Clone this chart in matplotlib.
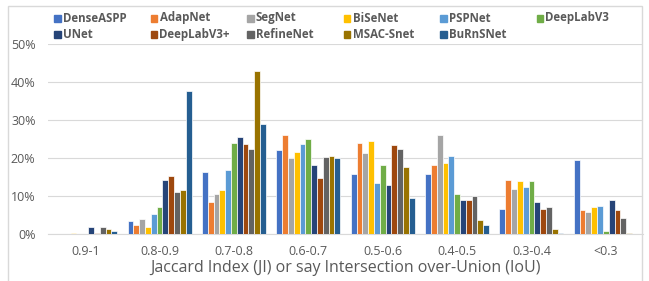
import numpy as np
import matplotlib
matplotlib.use("Agg")
import matplotlib.pyplot as plt
from matplotlib.patches import Rectangle

plt.rcParams['font.family'] = ['Open Sans', 'DejaVu Sans']

# 区间
categories = ['0.9-1', '0.8-0.9', '0.7-0.8', '0.6-0.7', '0.5-0.6', '0.4-0.5', '0.3-0.4', '<0.3']

models = ['DenseASPP', 'AdapNet', 'SegNet', 'BiSeNet', 'PSPNet', 'DeepLabV3',
          'UNet', 'DeepLabV3+', 'RefineNet', 'MSAC-Snet', 'BuRnSNet']

colors = ['#4472C4', '#ED7D31', '#A5A5A5', '#FFC000', '#5B9BD5', '#70AD47',
          '#264478', '#9E480E', '#636363', '#997300', '#255E91']

# 每个模型在各区间的占比 (%)
dense_aspp = [0.0, 3.3, 16.2, 22.0, 15.7, 15.8, 6.7, 19.6]
adapnet    = [0.0, 2.4, 8.5, 26.0, 24.0, 18.2, 14.2, 6.2]
segnet     = [0.0, 3.9, 10.4, 20.1, 21.4, 26.0, 11.9, 5.7]
bisenet    = [0.35, 1.8, 11.5, 21.5, 24.6, 18.6, 13.9, 7.1]
pspnet     = [0.0, 5.3, 16.8, 23.6, 13.4, 20.6, 12.5, 7.5]
deeplabv3  = [0.0, 7.1, 24.0, 25.0, 18.2, 10.4, 13.9, 0.8]
unet       = [1.9, 14.3, 25.5, 18.2, 12.9, 8.9, 8.5, 9.0]
deeplabv3p = [0.3, 15.3, 23.6, 14.8, 23.5, 8.9, 6.7, 6.2]
refinenet  = [1.9, 11.0, 22.5, 20.2, 22.5, 10.0, 7.1, 4.3]
msac_snet  = [1.3, 11.5, 42.9, 20.6, 17.7, 3.8, 1.3, 0.35]
burnsnet   = [0.8, 37.5, 28.9, 20.1, 9.6, 2.3, 0.35, 0.0]

series = [dense_aspp, adapnet, segnet, bisenet, pspnet, deeplabv3,
          unet, deeplabv3p, refinenet, msac_snet, burnsnet]

fig = plt.figure(figsize=(6.49, 2.81), dpi=100)
ax = fig.add_axes([48 / 649, 1 - 234 / 281, (643 - 48) / 649, (234 - 44) / 281])

x = np.arange(len(categories))
n = len(series)
group_w = 0.86
bw = group_w / n
for i, (vals, c) in enumerate(zip(series, colors)):
    offs = -group_w / 2 + bw * (i + 0.5)
    ax.bar(x + offs, np.array(vals) / 100, width=bw, color=c,
           edgecolor='white', linewidth=0.5, zorder=3)

ax.set_xlim(-0.5, len(categories) - 0.5)
ax.set_ylim(0, 0.5)
ax.set_yticks(np.arange(0, 0.51, 0.1))
ax.set_yticklabels([f'{int(round(v * 100))}%' for v in np.arange(0, 0.51, 0.1)])
ax.set_xticks(x)
ax.set_xticklabels(categories)
ax.tick_params(axis='both', length=0, colors='#595959', labelsize=9)
ax.tick_params(axis='y', pad=9)
ax.tick_params(axis='x', pad=8)
ax.grid(axis='y', color='#d9d9d9', linewidth=0.8, zorder=0)
for s in ['top', 'right', 'left']:
    ax.spines[s].set_visible(False)
ax.spines['bottom'].set_color('#d9d9d9')
ax.spines['bottom'].set_linewidth(0.8)
ax.set_xlabel('Jaccard Index (JI) or say Intersection over-Union (IoU)',
              fontsize=11.5, color='#595959', labelpad=1)

# 图例（Excel 风格，按行排列）
for i, (m, c) in enumerate(zip(models, colors)):
    col, row = i % 6, i // 6
    px = 54 + col * 96.5
    py = 18 + row * 16
    fig.patches.append(Rectangle((px / 649, 1 - (py + 3.5) / 281), 6.5 / 649, 6.5 / 281,
                                 transform=fig.transFigure, color=c))
    fig.text((px + 9) / 649, 1 - py / 281, m, fontsize=8.3, fontweight='bold',
             color='#595959', va='center', ha='left')

# 外框
fig.patches.append(Rectangle((8 / 649, -0.01), (642 - 8) / 649, 1 - 6 / 281 + 0.01,
                             transform=fig.transFigure, fill=False,
                             edgecolor='#d9d9d9', linewidth=1))

fig.savefig('out.png', dpi=100)
